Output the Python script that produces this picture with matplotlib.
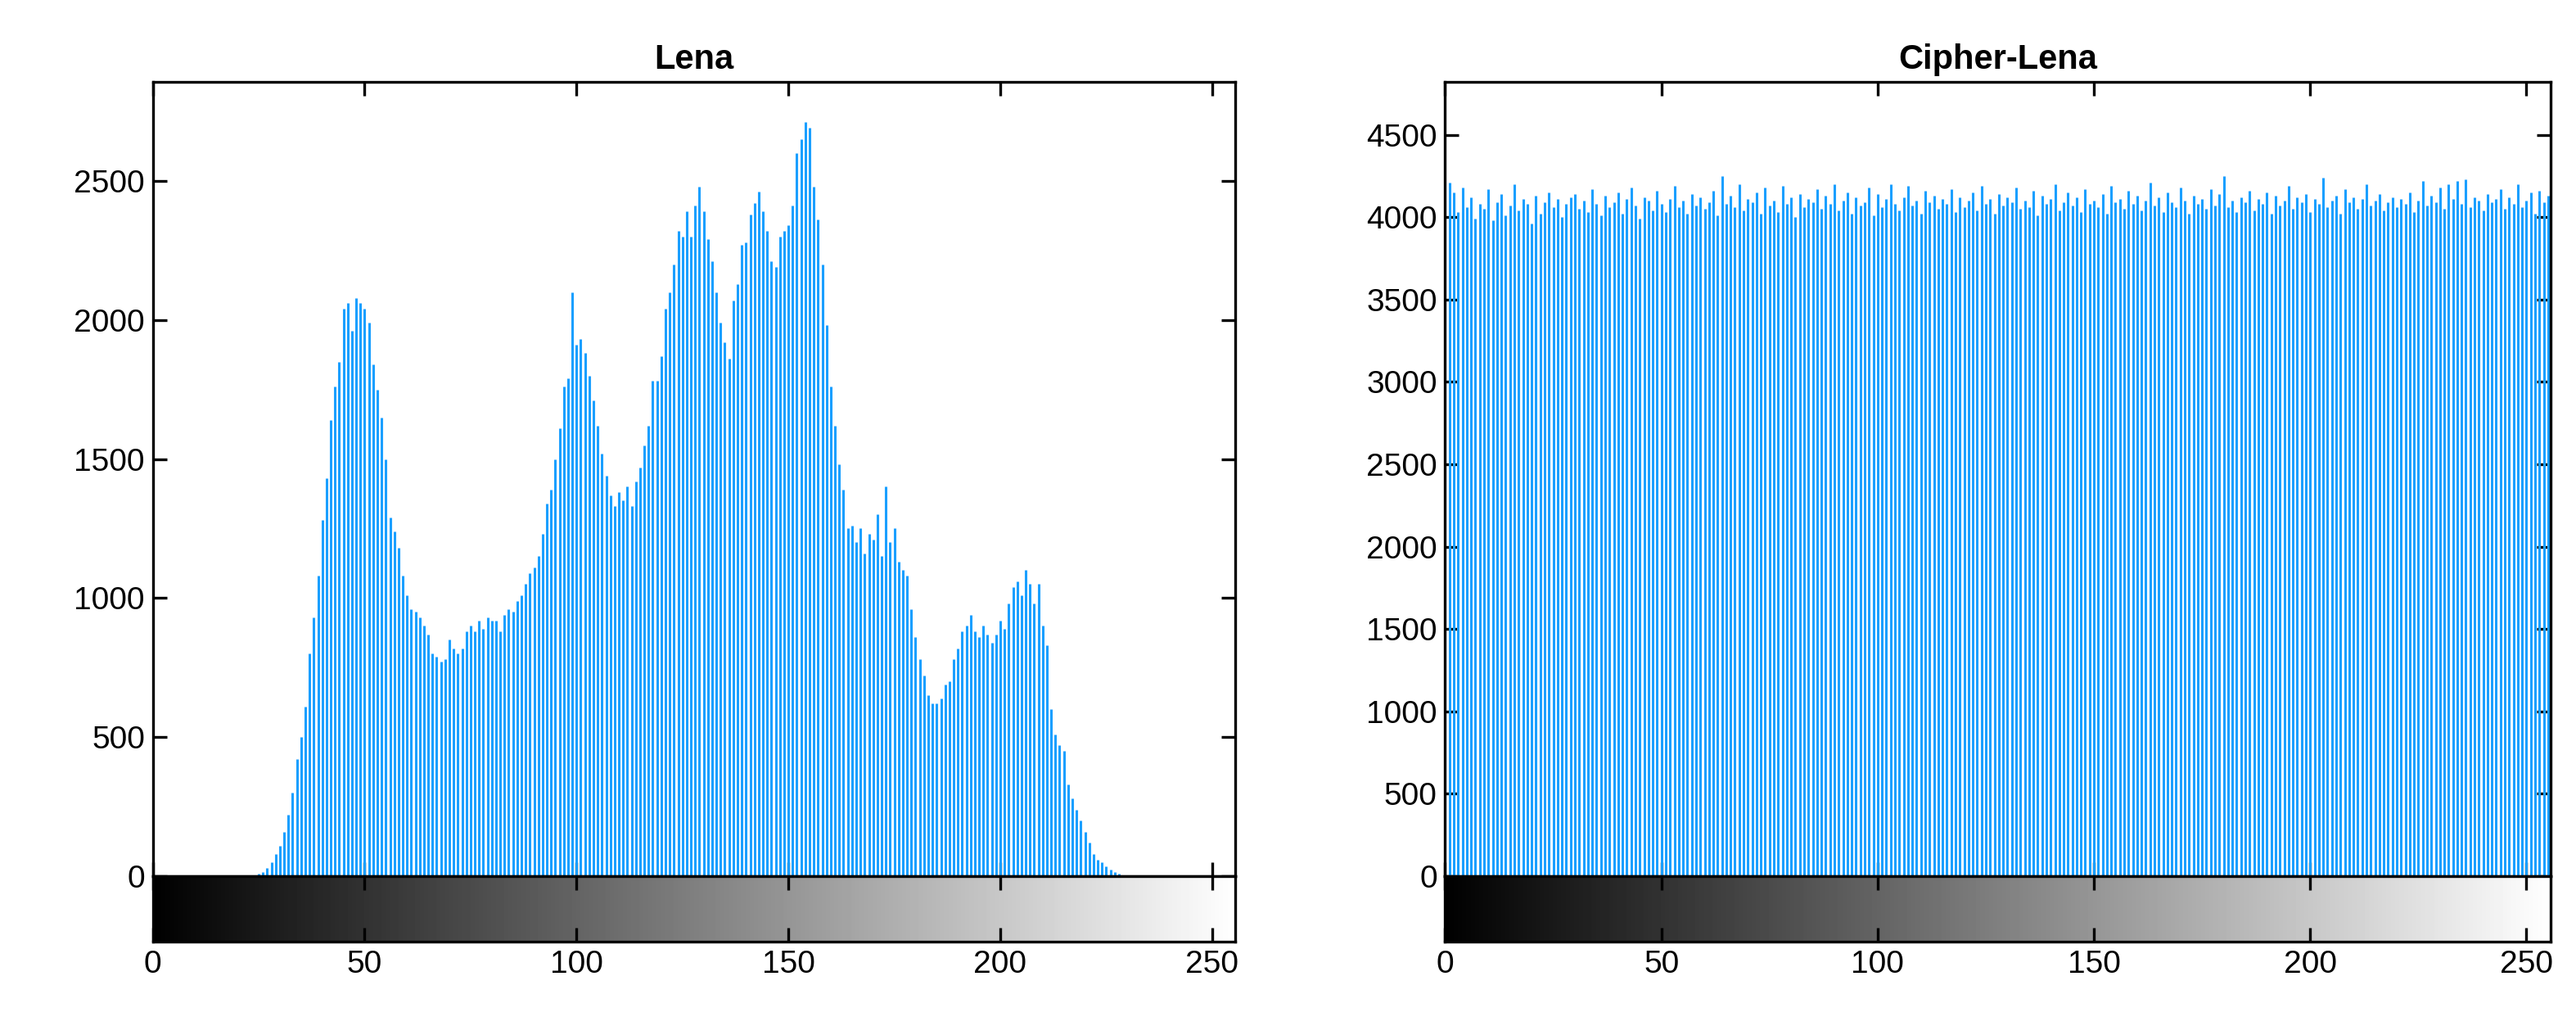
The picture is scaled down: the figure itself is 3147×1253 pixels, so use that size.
import numpy as np
import matplotlib.pyplot as plt

plt.rcParams['font.family'] = ['Liberation Sans', 'DejaVu Sans']

bins = np.arange(256)

# Lena histogram, bins 0..255
lena_head = [0] * 24 + [3, 8, 15, 30, 50, 80, 110, 160, 220, 300, 420, 500, 610, 800, 930, 1080,
                        1280, 1430, 1640, 1760, 1850, 2040, 2060, 1960, 2080, 2060, 2040, 1990, 1840,
                        1750, 1650, 1500, 1290, 1240, 1180, 1080, 1010, 960, 950, 930, 900, 870, 800,
                        790, 770, 780, 850, 820, 800, 820, 880, 900, 880, 920, 890, 930, 920, 920, 880,
                        940, 960, 950, 990, 1010, 1050, 1090, 1110, 1150, 1230, 1340, 1390, 1500, 1610,
                        1760, 1790, 2100]
lena_tail = [1910, 1930, 1880, 1800, 1710, 1620, 1520, 1440, 1370, 1330, 1380, 1350, 1400, 1330, 1420,
             1470, 1550, 1620, 1780, 1780, 1870, 2040, 2100, 2200, 2320, 2300, 2390, 2300, 2410, 2480,
             2390, 2290, 2210, 2100, 1990, 1920, 1860, 2070, 2130, 2270, 2280, 2380, 2420, 2460, 2390,
             2320, 2210, 2190, 2300, 2320, 2340, 2410, 2600, 2650, 2710, 2690, 2480, 2360, 2200, 1980,
             1760, 1620, 1480, 1390, 1250, 1260, 1200, 1250, 1160, 1230, 1210, 1300, 1150, 1400, 1200,
             1250, 1130, 1100, 1080, 960, 860, 780, 720, 650, 620, 620, 640, 690, 700, 780, 820, 880,
             900, 940, 880, 860, 900, 870, 840, 870, 920, 890, 980, 1040, 1060, 1010, 1100, 1050, 980,
             1050, 900, 830, 600, 510, 470, 450, 330, 280, 240, 200, 160, 120, 80, 60, 50, 35, 25, 15,
             8, 4, 2]
lena = lena_head + lena_tail
lena = lena + [0] * (256 - len(lena))

# Cipher-Lena histogram (nearly flat)
cipher = [4100, 4210, 4150, 4030, 4180, 4060, 4120, 3990, 4080, 4050, 4170, 3980, 4090, 4140, 4010,
          4070, 4200, 4040, 4110, 4080, 3960, 4130, 4020, 4090, 4150, 4060, 4110, 4000, 4080, 4120,
          4140, 4050, 4100, 4030, 4170, 4080, 4010, 4130, 4060, 4090, 4150, 4020, 4110, 4180, 4070,
          3990, 4120, 4100, 4040, 4160, 4080, 4030, 4110, 4190, 4060, 4100, 4020, 4140, 4070, 4120,
          4050, 4090, 4160, 4010, 4250, 4080, 4130, 4060, 4200, 4040, 4110, 4090, 4150, 4020, 4180,
          4070, 4100, 4030, 4190, 4080, 4120, 4000, 4140, 4060, 4110, 4090, 4170, 4050, 4130, 4080,
          4200, 4040, 4100, 4150, 4020, 4120, 4070, 4090, 4180, 4010, 4140, 4060, 4110, 4200, 4080,
          4040, 4120, 4190, 4070, 4100, 4020, 4160, 4090, 4130, 4050, 4110, 4080, 4170, 4030, 4120,
          4060, 4100, 4150, 4040, 4190, 4080, 4110, 4020, 4140, 4070, 4120, 4090, 4180, 4050, 4100,
          4060, 4160, 4010, 4130, 4080, 4110, 4200, 4040, 4090, 4150, 4070, 4120, 4030, 4170, 4080,
          4100, 4060, 4140, 4020, 4190, 4090, 4110, 4050, 4160, 4080, 4130, 4040, 4100, 4210, 4070,
          4120, 4030, 4150, 4090, 4060, 4180, 4100, 4020, 4130, 4080, 4110, 4050, 4170, 4070, 4140,
          4250, 4060, 4100, 4030, 4120, 4090, 4160, 4040, 4110, 4080, 4150, 4020, 4130, 4070, 4100,
          4190, 4050, 4120, 4090, 4140, 4030, 4110, 4080, 4240, 4060, 4100, 4130, 4020, 4170, 4090,
          4120, 4050, 4110, 4200, 4070, 4100, 4140, 4040, 4090, 4120, 4060, 4110, 4080, 4150, 4030,
          4100, 4220, 4070, 4130, 4090, 4180, 4050, 4200, 4110, 4220, 4080, 4230, 4060, 4120, 4100,
          4040, 4140, 4090, 4110, 4170, 4050, 4120, 4080, 4200, 4060, 4100, 4150, 4020, 4160, 4090,
          4130]
cipher = cipher[:256]

titles = ['Lena', 'Cipher-Lena']
ytops = [2855, 4820]
yticks = [np.arange(0, 3000, 500), np.arange(0, 5000, 500)]
xticks = [0, 50, 100, 150, 200, 250]

fig = plt.figure(figsize=(15.735, 6.265), dpi=200)
lefts = [0.0593, 0.561]
widths = [0.4203, 0.429]
grad = np.linspace(0, 1, 256).reshape(1, -1)

for i, data in enumerate([lena, cipher]):
    ax = fig.add_axes([lefts[i], 0.146, widths[i], 0.774])
    ax.vlines(bins, 0, data, color='#1a9fff', linewidth=1.1)
    ax.set_xlim(0, 255.5)
    ax.set_ylim(0, ytops[i])
    ax.set_yticks(yticks[i])
    ax.set_xticks(xticks)
    ax.set_xticklabels([])
    ax.tick_params(direction='in', length=6, width=1.2, top=True, right=True, labelsize=14)
    for s in ax.spines.values():
        s.set_linewidth(1.2)
    ax.set_title(titles[i], fontsize=15, fontweight='bold')

    cax = fig.add_axes([lefts[i], 0.082, widths[i], 0.064])
    cax.imshow(grad, cmap='gray', aspect='auto', extent=[0, 255.5, 0, 1])
    cax.set_xlim(0, 255.5)
    cax.set_yticks([])
    cax.set_xticks(xticks)
    cax.tick_params(direction='in', length=6, width=1.2, top=True, labelsize=14)
    for s in cax.spines.values():
        s.set_linewidth(1.2)

fig.savefig('out.png', dpi=200)
